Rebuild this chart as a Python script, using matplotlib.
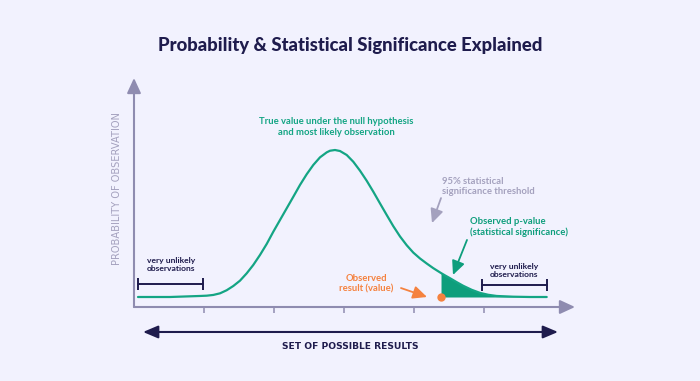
import matplotlib
matplotlib.use("Agg")
import matplotlib.pyplot as plt
import numpy as np

# ---- data ----
curve_x = [0.057, 0.514, 0.943, 1.039, 1.133, 1.229, 1.324, 1.419, 1.514, 1.610,
           1.704, 1.800, 1.896, 1.990, 2.086, 2.181, 2.276, 2.371, 2.467, 2.561,
           2.657, 2.753, 2.800, 2.871, 2.943, 3.039, 3.133, 3.229, 3.324, 3.419,
           3.514, 3.610, 3.704, 3.800, 3.896, 3.990, 4.086, 4.181, 4.276, 4.386,
           4.443, 4.514, 4.610, 4.704, 4.824, 4.943, 5.061, 5.181, 5.419, 5.657,
           5.896]
curve_y = [0.000, 0.000, 0.007, 0.009, 0.014, 0.025, 0.046, 0.075, 0.111, 0.161,
           0.218, 0.286, 0.361, 0.444, 0.524, 0.603, 0.682, 0.762, 0.835, 0.898,
           0.950, 0.984, 0.995, 1.000, 0.993, 0.966, 0.920, 0.859, 0.791, 0.716,
           0.637, 0.558, 0.482, 0.412, 0.352, 0.302, 0.262, 0.228, 0.196, 0.163,
           0.147, 0.128, 0.101, 0.076, 0.049, 0.028, 0.015, 0.007, 0.002, 0.000,
           0.000]
observed_x = 4.386
observed_y = 0.0
tick_positions = [1, 2, 3, 4, 5]
left_range = [0.057, 0.986]
right_range = [4.971, 5.900]

title = "Probability & Statistical Significance Explained"
ylabel = "PROBABILITY OF OBSERVATION"
xlabel = "SET OF POSSIBLE RESULTS"

# ---- styles ----
BG = "#F2F2FE"
NAVY = "#1F1C4D"
GRAY = "#8F8CB0"
LGRAY = "#A4A1BE"
GREEN = "#14A584"
FILL = "#0E9E7C"
ORANGE = "#F5823F"
FONT = "Lato"

fig = plt.figure(figsize=(7, 3.81), dpi=100, facecolor=BG)
W, H = 700, 381
# axes area: x px 134..575, y px 307..78
ax = fig.add_axes([134 / W, (H - 307) / H, (575 - 134) / W, (307 - 78) / H])
ax.set_facecolor(BG)
ax.set_xlim(0, (575 - 134) / 70)
ax.set_ylim((297 - 307) / 147, (297 - 78) / 147)
for s in ax.spines.values():
    s.set_visible(False)
ax.set_yticks([])
ax.set_xticks(tick_positions)
ax.set_xticklabels([])
ax.tick_params(axis="x", direction="out", length=4.5, width=1.1, color=GRAY)

# axis arrows
arrow_kw = dict(arrowstyle="-|>,head_length=1.3,head_width=0.6", mutation_scale=7,
                color=GRAY, lw=1.5, shrinkA=0, shrinkB=0)
ax.annotate("", xy=(0, 1), xytext=(0, 0), xycoords="axes fraction",
            arrowprops=arrow_kw, annotation_clip=False)
ax.annotate("", xy=(1, 0), xytext=(0, 0), xycoords="axes fraction",
            arrowprops=arrow_kw, annotation_clip=False)

# curve and fill
cx = np.array(curve_x)
cy = np.array(curve_y)
i0 = int(np.where(cx == observed_x)[0][0])
ax.fill_between(cx[i0:], cy[i0:], 0, color=FILL, lw=0, zorder=2)
ax.plot(cx, cy, color=GREEN, lw=1.6, solid_capstyle="round",
        solid_joinstyle="round", zorder=3)
ax.plot([observed_x], [observed_y], "o", color=ORANGE, ms=6, mec="none", zorder=4,
        clip_on=False)

# brackets
for rng, yy in [(left_range, 0.088), (right_range, 0.082)]:
    ax.plot(rng, [yy, yy], color=NAVY, lw=1.4, marker="|", ms=8, mew=1.4)

# texts
tkw = dict(family=FONT, fontweight="bold")
ax.text(2.886, 1.156, "True value under the null hypothesis\nand most likely observation",
        ha="center", va="center", color=GREEN, fontsize=6.8, linespacing=1.2, **tkw)
ax.text(4.40, 0.752, "95% statistical\nsignificance threshold",
        ha="left", va="center", color=LGRAY, fontsize=6.8, linespacing=1.2, **tkw)
ax.text(4.80, 0.473, "Observed p-value\n(statistical significance)",
        ha="left", va="center", color=FILL, fontsize=6.8, linespacing=1.2, **tkw)
ax.text(3.314, 0.092, "Observed\nresult (value)",
        ha="center", va="center", color=ORANGE, fontsize=6.8, linespacing=1.2, **tkw)
ax.text(0.529, 0.221, "very unlikely\nobservations",
        ha="center", va="center", color=NAVY, fontsize=6.1, linespacing=1.2, **tkw)
ax.text(5.429, 0.180, "very unlikely\nobservations",
        ha="center", va="center", color=NAVY, fontsize=6.1, linespacing=1.2, **tkw)

# annotation arrows
def pointer(x0, y0, x1, y1, col):
    ax.annotate("", xy=(x1, y1), xytext=(x0, y0),
                arrowprops=dict(arrowstyle="-|>,head_length=1.4,head_width=0.65",
                                mutation_scale=6, color=col, lw=1.3,
                                shrinkA=0, shrinkB=0),
                annotation_clip=False)

pointer(4.386, 0.673, 4.257, 0.503, LGRAY)
pointer(4.757, 0.388, 4.557, 0.150, FILL)
pointer(3.814, 0.061, 4.186, 0.0, ORANGE)

# bottom double arrow and label
ax.annotate("", xy=(6.057, -0.238), xytext=(0.129, -0.238),
            arrowprops=dict(arrowstyle="<|-|>,head_length=1.3,head_width=0.55",
                            mutation_scale=7, color=NAVY, lw=1.5,
                            shrinkA=0, shrinkB=0),
            annotation_clip=False)
ax.text(3.086, -0.340, xlabel, ha="center", va="center", color=NAVY,
        fontsize=6.6, family="DejaVu Sans", fontweight="bold", clip_on=False)
ax.text(-0.243, 0.741, ylabel, ha="center", va="center", rotation=90, color=LGRAY,
        fontsize=7.1, family="DejaVu Sans", fontweight="normal", clip_on=False)

fig.text(350 / W, 1 - 45 / H, title, ha="center", va="center", color=NAVY,
         fontsize=13.3, family=FONT, fontweight="black")

fig.savefig("out.png", dpi=100, facecolor=BG)
